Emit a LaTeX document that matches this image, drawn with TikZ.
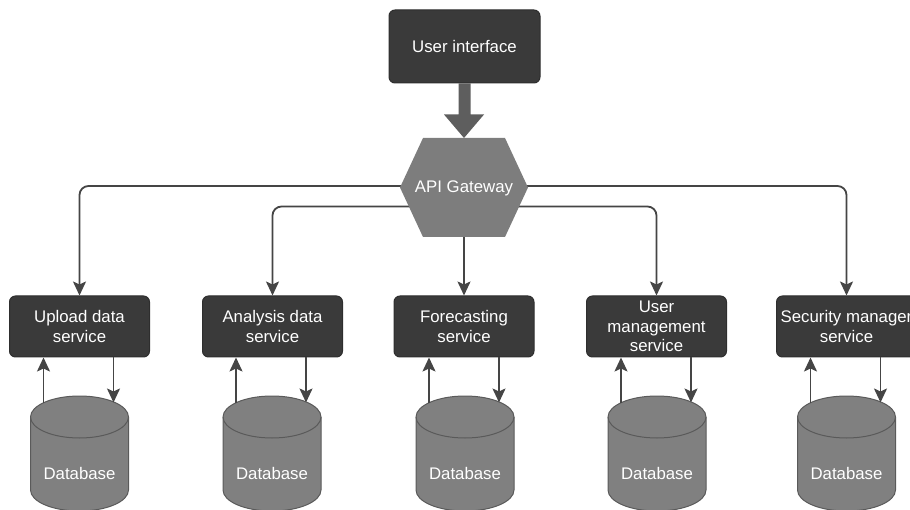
\documentclass[tikz,border=0pt]{standalone}
\usepackage{fontspec}
\setmainfont{Liberation Sans}
\usetikzlibrary{arrows.meta,calc}
\definecolor{boxfill}{HTML}{3A3A3A}
\definecolor{boxline}{HTML}{2E2E2E}
\definecolor{hexfill}{HTML}{7D7D7D}
\definecolor{dbfill}{HTML}{808080}
\definecolor{dbline}{HTML}{5A5A5A}
\definecolor{connc}{HTML}{454545}
\definecolor{bigarr}{HTML}{5E5E5E}
\tikzset{
  lbl/.style={font=\fontsize{16.8}{19.5}\selectfont, text=white, align=center},
  svc/.style={lbl, rectangle, rounded corners=6pt, fill=boxfill, draw=boxline, line width=1pt,
    minimum width=140pt, minimum height=61pt, inner sep=0pt},
  conn/.style={draw=connc, line width=1.8pt, rounded corners=9pt,
    -{Stealth[length=14pt,width=13pt,inset=3pt]}},
  dbshape/.style={fill=dbfill, draw=dbline, line width=1pt}
}
\newcommand{\dbcyl}[1]{%
  \path[dbshape] ($(#1)+(-49pt,0)$) -- ++(0,-73pt)
     arc[start angle=180,end angle=360,x radius=49pt,y radius=21pt]
     -- ++(0,73pt)
     arc[start angle=0,end angle=180,x radius=49pt,y radius=21pt] -- cycle;
  \draw[dbline, line width=1pt] ($(#1)+(49pt,0)$)
     arc[start angle=0,end angle=-180,x radius=49pt,y radius=21pt];
}
\begin{document}
\begin{tikzpicture}[x=1pt,y=1pt]
\useasboundingbox (0,0) rectangle (910,509);
\clip (0,0) rectangle (910,509);

% top
\node[svc, minimum width=151pt, minimum height=73pt] (ui) at (464.5,462.5) {User interface};
\coordinate (gwc) at (464,321.5);
\coordinate (gwtop) at (464,371);

% services
\node[svc] (s1) at (79.5,182.5) {Upload data\\service};
\node[svc] (s2) at (272.5,182.5) {Analysis data\\service};
\node[svc] (s3) at (464,182.5) {Forecasting\\service};
\node[svc] (s4) at (656.5,182.5) {User\\management\\service};
\node[svc] (s5) at (846.5,182.5) {Security manager\\service};

% connectors from gateway
\draw[conn] ($(gwc)+(0,1.5)$) -| (s1.north);
\draw[conn] ($(gwc)+(0,-19)$) -| (s2.north);
\draw[conn] (gwc) -- (s3.north);
\draw[conn] ($(gwc)+(0,-19)$) -| (s4.north);
\draw[conn] ($(gwc)+(0,1.5)$) -| (s5.north);

% big arrow
\fill[bigarr] ($(ui.south)+(-6,0)$) -- ($(ui.south)+(-6,-31)$) -- ($(ui.south)+(-20.5,-31)$)
   -- (gwtop) -- ($(ui.south)+(19.5,-31)$) -- ($(ui.south)+(6,-31)$) -- ($(ui.south)+(6,0)$) -- cycle;

% hexagon
\fill[hexfill] ($(gwc)+(-64,0)$) -- ($(gwc)+(-41,49.5)$) -- ($(gwc)+(41,49.5)$)
   -- ($(gwc)+(64,0)$) -- ($(gwc)+(41,-49.5)$) -- ($(gwc)+(-41,-49.5)$) -- cycle;
\node[lbl] (gw) at ($(gwc)+(0,-1)$) {API Gateway};

% databases
\foreach \n/\cx in {1/79.5,2/272,3/465,4/657,5/846.5}{
  \coordinate (dbt\n) at (\cx,92);
  \dbcyl{dbt\n}
  \node[lbl] (db\n) at (\cx,36) {Database};
  \draw[conn] ($(dbt\n)+(-36,14)$) -- (s\n.south -| {$(dbt\n)+(-36,0)$});
  \draw[conn] (s\n.south -| {$(dbt\n)+(34,0)$}) -- ($(dbt\n)+(34,14.5)$);
}
\end{tikzpicture}
\end{document}
